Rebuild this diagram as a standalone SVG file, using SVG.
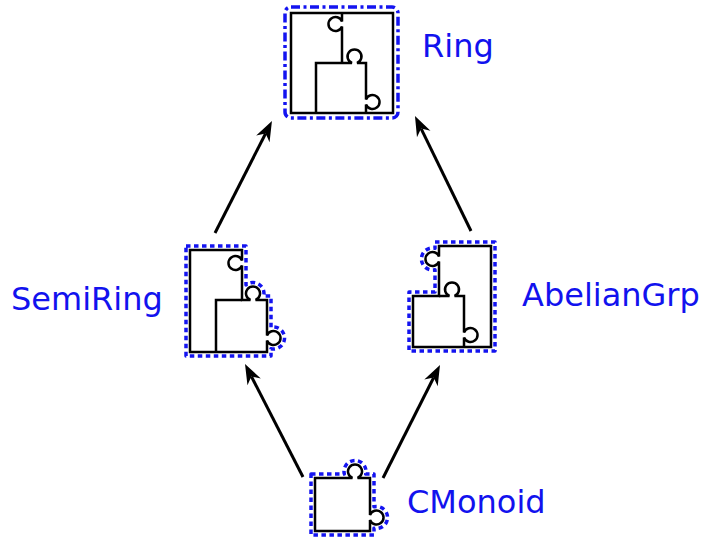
<svg xmlns="http://www.w3.org/2000/svg" width="708" height="538" viewBox="0 0 708 538">
<style>
.bg{fill:#ffffff}
.pc{fill:none;stroke:#000;stroke-width:2.5;stroke-linejoin:miter}
.ol{fill:none;stroke:#1414f0;stroke-width:3.5;stroke-dasharray:4.5,3.5;stroke-linejoin:round}
.olr{fill:none;stroke:#1414f0;stroke-width:3.5;stroke-dasharray:9,3.5,3,3.5;stroke-linejoin:round}
.lbl{font-family:"DejaVu Sans",sans-serif;font-size:32px;fill:#1212ee}
.ed{fill:none;stroke:#000;stroke-width:3}
</style>
<defs>
<marker id="ah" markerUnits="userSpaceOnUse" markerWidth="22" markerHeight="18" refX="6" refY="9" orient="auto" overflow="visible">
<path d="M20,9 L0,1.5 L6,9 L0,16.5 Z" fill="#000"/>
</marker>
</defs>
<rect class="bg" x="0" y="0" width="708" height="538"/>
<g id="Ring">
<rect class="olr" x="285" y="7" width="113" height="111" rx="6"/>
<rect class="pc" x="291" y="13" width="102" height="100"/>
<path class="pc" d="M342,13 V21.5 A7,7 0 1 0 342,26.5 V63"/>
<path class="pc" d="M316,113 V63 H352 A7,7 0 1 1 357,63 H366 V99.5 A7,7 0 1 1 366,104.5 V113"/>
<text class="lbl" x="422" y="57">Ring</text>
</g>
<g id="SemiRing">
<path class="ol" d="M186,246 H246 V285 A11,11 0 0 1 263.7,296 H271 V327.3 A11,11 0 1 1 271,348.7 V356 H186 Z"/>
<path class="pc" d="M190,250 H242 V260.5 A7,7 0 1 0 242,265.5 V300 H250.5 A7,7 0 1 1 255.5,300 H267 V335.5 A7,7 0 1 1 267,340.5 V352 H190 Z"/>
<path class="pc" d="M216,352 V300 H242"/>
<text class="lbl" x="11" y="310">SemiRing</text>
</g>
<g id="AbelianGrp">
<path class="ol" d="M435,242 H495 V351 H409 V292 H435 V269.7 A11,11 0 1 1 435,248.3 Z"/>
<path class="pc" d="M439,246 H491 V347 H413 V296 H439 V261.5 A7,7 0 1 1 439,256.5 Z"/>
<path class="pc" d="M439,296 H449.5 A7,7 0 1 1 454.5,296 H464 V332.5 A7,7 0 1 1 464,337.5 V347"/>
<text class="lbl" x="522" y="306">AbelianGrp</text>
</g>
<g id="CMonoid">
<path class="ol" d="M311,474 H344.3 A11,11 0 1 1 365.7,474 H374 V506.8 A11,11 0 1 1 374,528.2 V535 H311 Z"/>
<path class="pc" d="M315,478 H352.5 A7,7 0 1 1 357.5,478 H370 V515 A7,7 0 1 1 370,520 V531 H315 Z"/>
<text class="lbl" x="407" y="513">CMonoid</text>
</g>
<g id="edges">
<line class="ed" x1="215" y1="233" x2="265.6" y2="133.5" marker-end="url(#ah)"/>
<line class="ed" x1="471" y1="231" x2="421.1" y2="128.6" marker-end="url(#ah)"/>
<line class="ed" x1="303" y1="477" x2="251.4" y2="376.5" marker-end="url(#ah)"/>
<line class="ed" x1="383" y1="478" x2="433.7" y2="377.5" marker-end="url(#ah)"/>
</g>
</svg>
